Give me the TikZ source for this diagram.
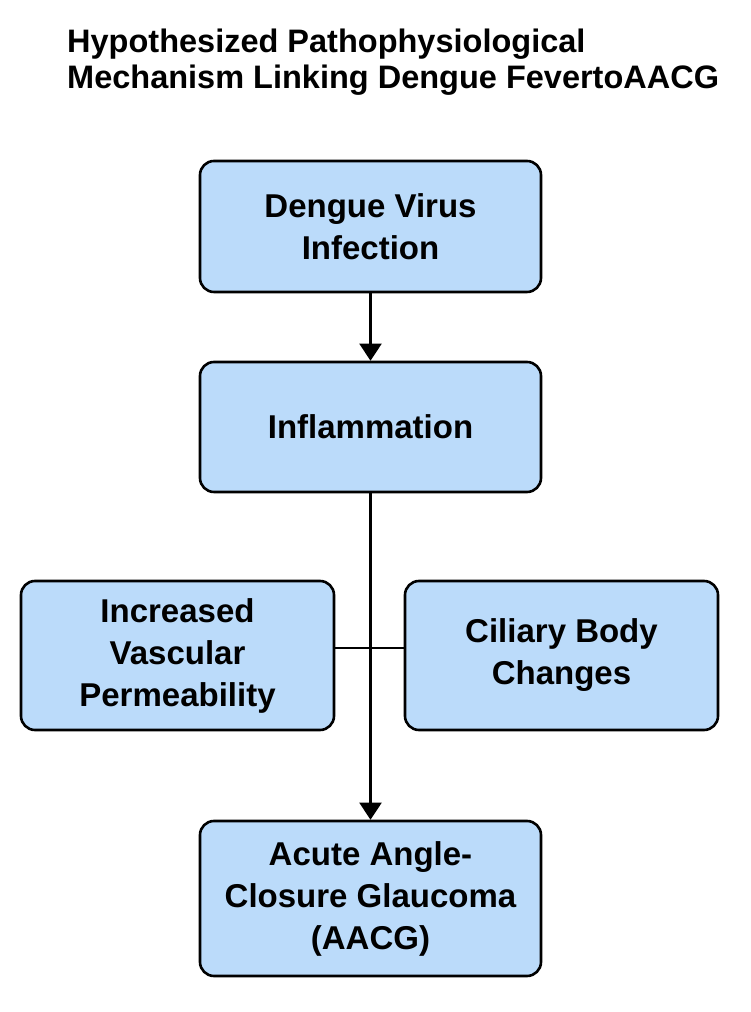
\documentclass[tikz,border=0pt]{standalone}
\usepackage{fontspec}
\setmainfont{Liberation Sans}
\usetikzlibrary{arrows.meta}
\definecolor{boxblue}{HTML}{BBDBFA}
\tikzset{
  flowbox/.style={draw=black, line width=2.6pt, fill=boxblue, rounded corners=14pt,
    align=center, inner sep=0pt, font=\fontsize{33}{42}\selectfont\bfseries},
  conn/.style={line width=2.2pt, draw=black},
  arr/.style={conn, -{Triangle[width=22pt,length=17pt]}}
}
\begin{document}
\begin{tikzpicture}[x=1pt,y=1pt]
\useasboundingbox (0,0) rectangle (750,1012);
\fill[white] (0,0) rectangle (750,1012);
\node[anchor=north west, align=left, inner sep=0pt,
  font=\fontsize{32.5}{36}\selectfont\bfseries] (title) at (67,983)
  {Hypothesized Pathophysiological\\Mechanism Linking Dengue FevertoAACG};
\node[flowbox, minimum width=341pt, minimum height=131pt] (dengue) at (370.5,785.5) {Dengue Virus\\Infection};
\node[flowbox, minimum width=341pt, minimum height=130pt] (infl) at (370.5,585) {Inflammation};
\node[flowbox, minimum width=313pt, minimum height=149pt] (vasc) at (177.5,356.5) {Increased\\Vascular\\Permeability};
\node[flowbox, minimum width=313pt, minimum height=149pt] (cil) at (561.5,356.5) {Ciliary Body\\Changes};
\node[flowbox, minimum width=341pt, minimum height=155pt] (aacg) at (370.5,113.5) {Acute Angle-\\Closure Glaucoma\\(AACG)};
\coordinate (hj) at (370.5,364);
\draw[arr] (dengue) -- (infl);
\draw[arr] (infl) -- (aacg);
\draw[conn] (hj -| vasc.east) -- (hj -| cil.west);
\end{tikzpicture}
\end{document}
